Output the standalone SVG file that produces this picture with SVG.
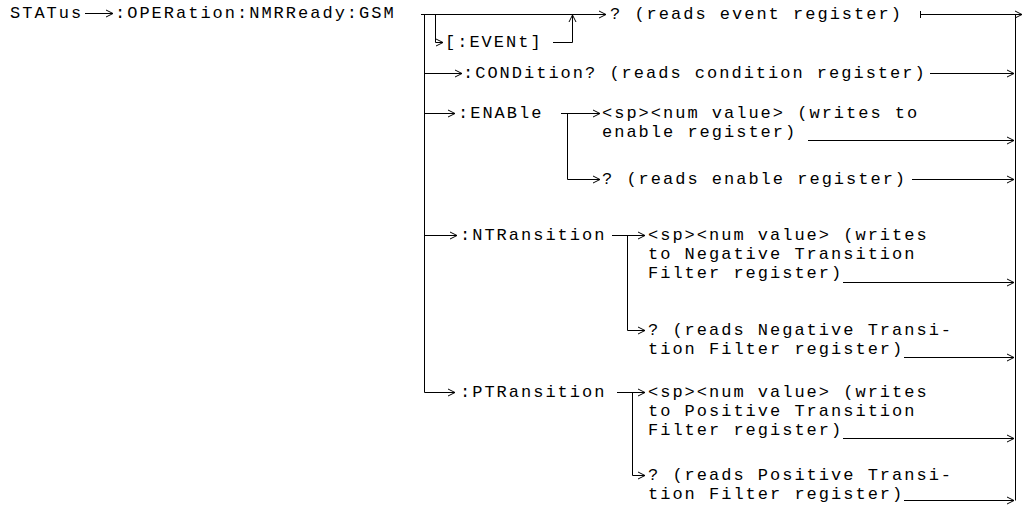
<svg xmlns="http://www.w3.org/2000/svg" width="1026" height="509" viewBox="0 0 1026 509">
<defs>
<marker id="ah" markerWidth="9" markerHeight="9" refX="7" refY="4" orient="auto" markerUnits="userSpaceOnUse" viewBox="0 0 9 8"><path d="M0,0.5 L7,4 L0,7.5" fill="none" stroke="#000" stroke-width="1"/></marker>
</defs>
<style>
text{font-family:"Liberation Mono","Courier New",monospace;font-size:17px;letter-spacing:2px;fill:#000}
.c{fill:none;stroke:#000;stroke-width:1}
.a{marker-end:url(#ah)}
</style>
<rect width="1026" height="509" fill="#fff"/>
<g id="connectors">
<path class="c a" d="M85,13.5 H113"/>
<path class="c a" d="M421,14.5 H606"/>
<path class="c a" d="M424.5,14.5 V392.5 H455"/>
<path class="c a" d="M435.5,14.5 V42.5 H443"/>
<path class="c a" d="M553,42.5 H572.5 V15"/>
<path class="c a" d="M424.5,73.5 H462"/>
<path class="c a" d="M424.5,113.5 H455"/>
<path class="c a" d="M561,113.5 H600"/>
<path class="c a" d="M567.5,113.5 V179.5 H600"/>
<path class="c a" d="M424.5,235.5 H457"/>
<path class="c a" d="M612,235.5 H645"/>
<path class="c a" d="M627.5,235.5 V330.5 H645"/>
<path class="c a" d="M617,392.5 H645"/>
<path class="c a" d="M632.5,392.5 V475.5 H645"/>
<path class="c" d="M920.5,11 V18"/>
<path class="c a" d="M920,14.5 H1022"/>
<path class="c a" d="M930,73.5 H1014"/>
<path class="c a" d="M808,140.5 H1014"/>
<path class="c a" d="M912,179.5 H1014"/>
<path class="c a" d="M843,282.5 H1014"/>
<path class="c a" d="M904,357.5 H1014"/>
<path class="c a" d="M843,438.5 H1014"/>
<path class="c a" d="M904,500.5 H1014"/>
<path class="c" d="M1015.5,14.5 V500.5"/>
</g>
<g id="status"><text x="10" y="18">STATus</text></g>
<g id="operation"><text x="115" y="18">:OPERation:NMRReady:GSM</text></g>
<g id="event-query"><text x="610" y="19">? (reads event register)</text></g>
<g id="event"><text x="445" y="47">[:EVENt]</text></g>
<g id="condition"><text x="463" y="78">:CONDition? (reads condition register)</text></g>
<g id="enable"><text x="458" y="118">:ENABle</text></g>
<g id="enable-write"><text x="602" y="118">&lt;sp&gt;&lt;num value&gt; (writes to</text><text x="602" y="137">enable register)</text></g>
<g id="enable-query"><text x="602" y="184">? (reads enable register)</text></g>
<g id="ntransition"><text x="460" y="240">:NTRansition</text></g>
<g id="ntransition-write"><text x="648" y="240">&lt;sp&gt;&lt;num value&gt; (writes</text><text x="648" y="259">to Negative Transition</text><text x="648" y="278">Filter register)</text></g>
<g id="ntransition-query"><text x="648" y="335">? (reads Negative Transi-</text><text x="648" y="354">tion Filter register)</text></g>
<g id="ptransition"><text x="460" y="397">:PTRansition</text></g>
<g id="ptransition-write"><text x="648" y="397">&lt;sp&gt;&lt;num value&gt; (writes</text><text x="648" y="416">to Positive Transition</text><text x="648" y="435">Filter register)</text></g>
<g id="ptransition-query"><text x="648" y="480">? (reads Positive Transi-</text><text x="648" y="499">tion Filter register)</text></g>
</svg>
